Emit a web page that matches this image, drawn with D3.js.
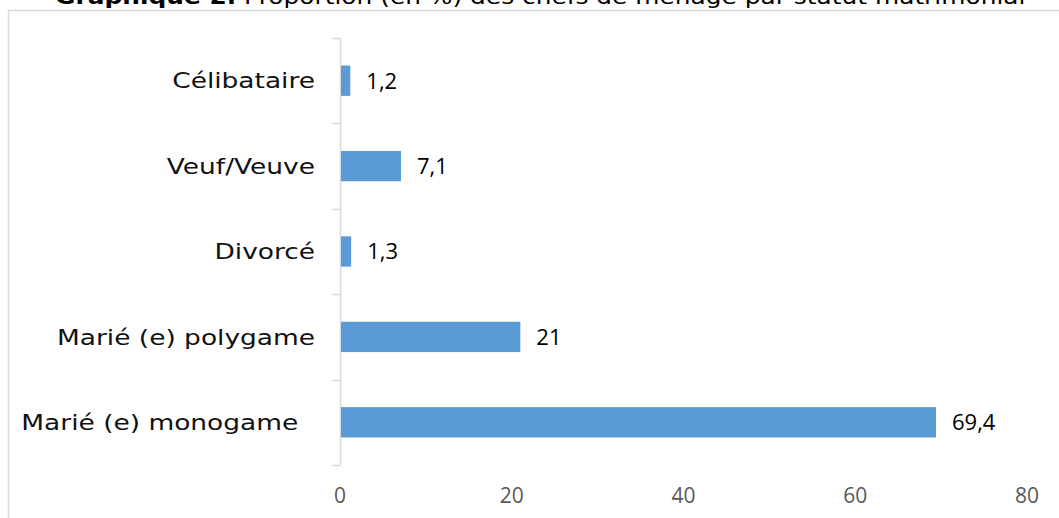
<!DOCTYPE html>
<html>
<head>
<meta charset="utf-8">
<script src="https://cdn.jsdelivr.net/npm/d3@7"></script>
<style>
  body { margin: 0; background: #fff; }
  svg { display: block; }
</style>
</head>
<body>
<div id="chart"></div>
<script>
// Data
const categories = ["Célibataire", "Veuf/Veuve", "Divorcé", "Marié (e) polygame", "Marié (e) monogame  "];
const values = [1.2, 7.1, 1.3, 21, 69.4];
const valueLabels = ["1,2", "7,1", "1,3", "21", "69,4"];
const xTicks = [0, 20, 40, 60, 80];

const width = 1059, height = 518;
const margin = {top: 38, left: 340, right: 32, bottom: 53};

const svg = d3.select("#chart")
    .append("svg")
    .attr("width", width)
    .attr("height", height);

// Frame of the chart area (only top and left edges visible)
svg.append("path")
    .attr("d", `M8.5,${height} V10.5 H${width}`)
    .attr("fill", "none")
    .attr("stroke", "#d9d9d9")
    .attr("stroke-width", 1.5);

// Title, mostly cut off at the top (as in the source)
const title = svg.append("text")
    .attr("transform", "translate(55,4) scale(1.13,1)")
    .style("font-family", "'DejaVu Sans', sans-serif")
    .style("font-size", "22px")
    .attr("fill", "#000");
title.append("tspan").attr("font-weight", "bold").text("Graphique 2.");
title.append("tspan").text(" Proportion (en %) des chefs de ménage par statut matrimonial");

// Scales
const x = d3.scaleLinear()
    .domain([0, 80])
    .range([margin.left, width - margin.right]);

const y = d3.scaleBand()
    .domain(categories)
    .range([margin.top, height - margin.bottom])
    .paddingInner(0.645)
    .paddingOuter(0.3225);

const yBand = d3.scaleBand()
    .domain(categories)
    .range([margin.top, height - margin.bottom]);

// Category axis line and ticks at band boundaries
const bounds = categories.map(c => yBand(c)).concat([height - margin.bottom]);
svg.append("line")
    .attr("x1", x(0) + 0.5).attr("x2", x(0) + 0.5)
    .attr("y1", margin.top).attr("y2", height - margin.bottom)
    .attr("stroke", "#d9d9d9")
    .attr("stroke-width", 1.5);
svg.selectAll(".ytick")
    .data(bounds)
    .join("line")
    .attr("class", "ytick")
    .attr("x1", x(0) - 8).attr("x2", x(0) + 0.5)
    .attr("y1", d => Math.round(d) + 0.5).attr("y2", d => Math.round(d) + 0.5)
    .attr("stroke", "#d9d9d9")
    .attr("stroke-width", 1.5);

// Category labels (stretched to mimic the wide geometric font)
svg.selectAll(".cat")
    .data(categories)
    .join("text")
    .attr("class", "cat")
    .attr("transform", d => `translate(315,${yBand(d) + yBand.bandwidth() / 2}) scale(1.23,1)`)
    .attr("dy", "0.36em")
    .attr("text-anchor", "end")
    .style("white-space", "pre")
    .style("font-family", "'DejaVu Sans', sans-serif")
    .style("font-size", "21.5px")
    .attr("fill", "#111")
    .text(d => d);

// X tick labels
svg.selectAll(".xt")
    .data(xTicks)
    .join("text")
    .attr("class", "xt")
    .attr("x", d => x(d))
    .attr("y", 503)
    .attr("text-anchor", "middle")
    .style("font-family", "'Open Sans', sans-serif")
    .style("font-size", "21px")
    .attr("fill", "#595959")
    .text(d => d);

// Bars
svg.selectAll(".bar")
    .data(values)
    .join("rect")
    .attr("class", "bar")
    .attr("x", x(0) + 1)
    .attr("y", (d, i) => y(categories[i]))
    .attr("width", d => x(d) - x(0) - 1)
    .attr("height", y.bandwidth())
    .attr("fill", "#5b9bd5");

// Value labels
svg.selectAll(".val")
    .data(values)
    .join("text")
    .attr("class", "val")
    .attr("x", d => x(d) + 16)
    .attr("y", (d, i) => y(categories[i]) + y.bandwidth() / 2)
    .attr("dy", "0.36em")
    .style("font-family", "'Open Sans', sans-serif")
    .style("font-size", "22px")
    .attr("fill", "#000")
    .text((d, i) => valueLabels[i]);
</script>
</body>
</html>
